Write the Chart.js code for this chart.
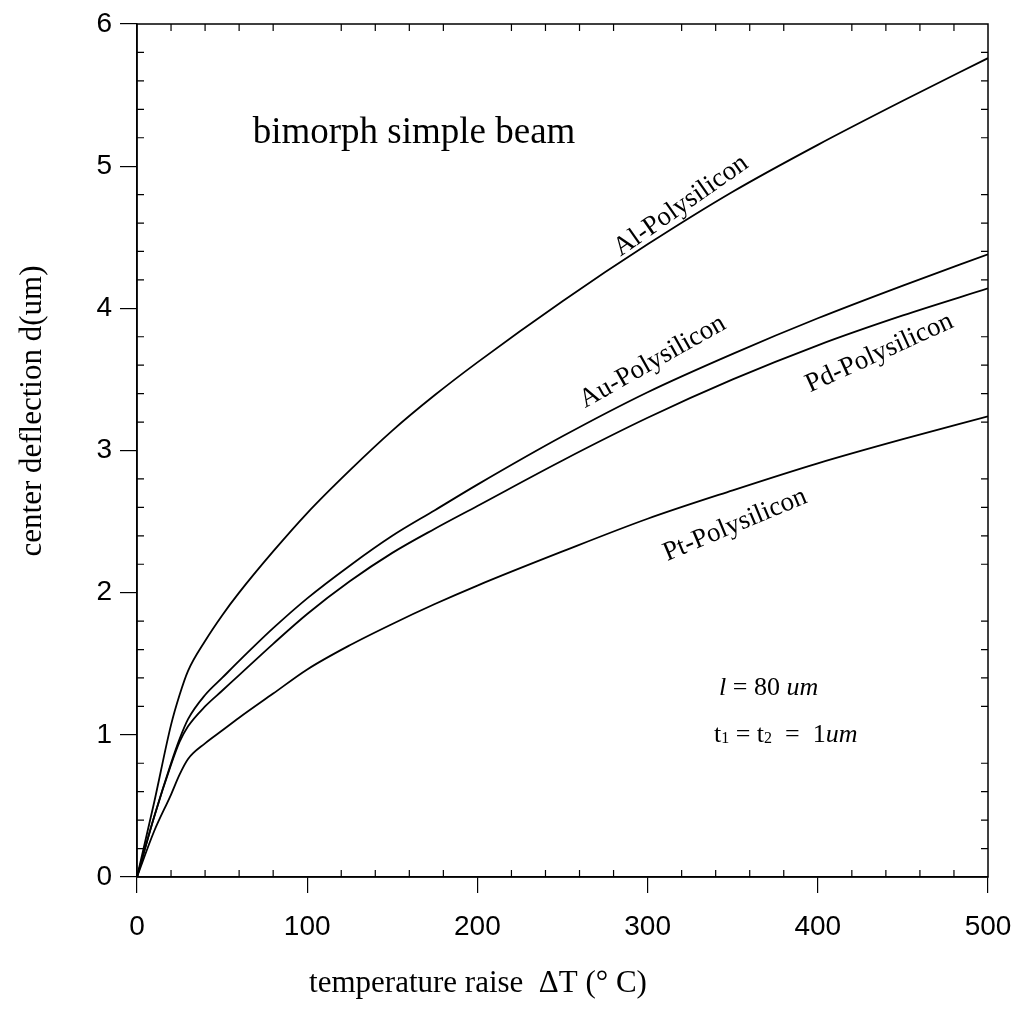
<!DOCTYPE html>
<html>
<head>
<meta charset="utf-8">
<script src="https://cdn.jsdelivr.net/npm/chart.js@4.4.1/dist/chart.umd.min.js"></script>
<style>
  body { margin: 0; background: #fff; }
  #wrap { width: 1022px; height: 1012px; }
</style>
</head>
<body>
<div id="wrap"><canvas id="g_beam"></canvas></div>
<script>
// temperature raise (°C) and center deflection (um)
const tempRaise = [0, 10, 20, 25, 30, 40, 50, 60, 80, 100, 125, 150, 175, 200, 250, 300, 350, 400, 450, 500];
const alPoly = [0, 0.52, 1.07, 1.28, 1.45, 1.66, 1.84, 2.00, 2.29, 2.56, 2.86, 3.14, 3.39, 3.62, 4.05, 4.45, 4.82, 5.15, 5.46, 5.76];
const auPoly = [0, 0.42, 0.80, 0.97, 1.11, 1.28, 1.40, 1.52, 1.75, 1.96, 2.19, 2.40, 2.58, 2.76, 3.10, 3.41, 3.68, 3.93, 4.16, 4.38];
const pdPoly = [0, 0.42, 0.79, 0.95, 1.06, 1.20, 1.31, 1.42, 1.64, 1.85, 2.08, 2.28, 2.45, 2.61, 2.93, 3.23, 3.50, 3.74, 3.95, 4.14];
const ptPoly = [0, 0.32, 0.58, 0.72, 0.83, 0.94, 1.03, 1.12, 1.29, 1.46, 1.63, 1.78, 1.92, 2.05, 2.29, 2.52, 2.72, 2.91, 3.08, 3.24];
const xTicks = [0, 100, 200, 300, 400, 500];
const yTicks = [0, 1, 2, 3, 4, 5, 6];

const serif = "'Liberation Serif', 'Times New Roman', serif";
const sans = "'Liberation Sans', Arial, sans-serif";

function toPoints(values) {
    return tempRaise.map((t, i) => ({ x: t, y: values[i] }));
}

function curve(label, values) {
    return {
        label: label,
        data: toPoints(values),
        borderColor: '#000',
        borderWidth: 1.8,
        pointRadius: 0,
        fill: false,
        cubicInterpolationMode: 'monotone'
    };
}

// curve labels : text, position in data units, angle in degrees
const curveLabels = [
    { text: 'Al-Polysilicon', x: 322, y: 4.68, angle: -35 },
    { text: 'Au-Polysilicon', x: 305, y: 3.58, angle: -29.5 },
    { text: 'Pd-Polysilicon', x: 438, y: 3.64, angle: -24.5 },
    { text: 'Pt-Polysilicon', x: 353, y: 2.43, angle: -22.6 }
];

// writes a list of [text, font, dy] pieces one after the other
function writePieces(ctx, pieces, x, y) {
    let cx = x;
    pieces.forEach(p => {
        ctx.font = p[1];
        ctx.fillText(p[0], cx, y + (p[2] || 0));
        cx += ctx.measureText(p[0]).width;
    });
}

const framePlugin = {
    id: 'frame',
    afterDraw(chart) {
        const ctx = chart.ctx;
        const a = chart.chartArea;
        const xs = chart.scales.x;
        const ys = chart.scales.y;
        ctx.save();
        ctx.strokeStyle = '#000';
        ctx.lineWidth = 1.5;
        ctx.strokeRect(a.left, a.top, a.right - a.left, a.bottom - a.top);

        // minor ticks, inward, on the four sides
        ctx.lineWidth = 1.2;
        ctx.beginPath();
        for (let v = 20; v < 500; v += 20) {
            if (v % 100 === 0) continue;
            const px = xs.getPixelForValue(v);
            ctx.moveTo(px, a.bottom); ctx.lineTo(px, a.bottom - 7);
            ctx.moveTo(px, a.top); ctx.lineTo(px, a.top + 7);
        }
        for (let k = 1; k < 30; k++) {
            if (k % 5 === 0) continue;
            const py = ys.getPixelForValue(k / 5);
            ctx.moveTo(a.left, py); ctx.lineTo(a.left + 7, py);
            ctx.moveTo(a.right, py); ctx.lineTo(a.right - 7, py);
        }
        ctx.stroke();

        ctx.fillStyle = '#000';
        // curve names
        ctx.font = '27px ' + serif;
        ctx.textAlign = 'center';
        ctx.textBaseline = 'alphabetic';
        curveLabels.forEach(l => {
            ctx.save();
            ctx.translate(xs.getPixelForValue(l.x), ys.getPixelForValue(l.y));
            ctx.rotate(l.angle * Math.PI / 180);
            ctx.fillText(l.text, 0, 0);
            ctx.restore();
        });

        // title inside the plot
        ctx.textAlign = 'left';
        ctx.font = '37px ' + serif;
        ctx.fillText('bimorph simple beam', xs.getPixelForValue(68), ys.getPixelForValue(5.16));

        // parameters
        const n = '26px ' + serif;
        const it = 'italic 26px ' + serif;
        const sm = '16px ' + serif;
        writePieces(ctx, [['l', it], [' = 80 ', n], ['um', it]],
            xs.getPixelForValue(342), ys.getPixelForValue(1.28));
        writePieces(ctx, [['t', n], ['1', sm, 1], [' = t', n], ['2', sm, 1], ['  =  1', n], ['um', it]],
            xs.getPixelForValue(339), ys.getPixelForValue(0.95));

        // axis titles
        ctx.font = '31px ' + serif;
        ctx.textAlign = 'center';
        ctx.fillText('temperature raise  \u0394T (\u00b0 C)', 478, 992);
        ctx.save();
        ctx.translate(41, 411);
        ctx.rotate(-Math.PI / 2);
        ctx.fillText('center deflection d(um)', 0, 0);
        ctx.restore();
        ctx.restore();
    }
};

window.addEventListener('load', () => {
    const context = document.getElementById('g_beam').getContext('2d');
    const config = {
        type: 'line',
        data: {
            datasets: [
                curve('Al-Polysilicon', alPoly),
                curve('Au-Polysilicon', auPoly),
                curve('Pd-Polysilicon', pdPoly),
                curve('Pt-Polysilicon', ptPoly)
            ]
        },
        options: {
            responsive: true,
            maintainAspectRatio: false,
            animation: false,
            layout: { padding: { left: 0, top: 24, right: 34, bottom: 0 } },
            plugins: {
                legend: { display: false },
                tooltip: { enabled: false }
            },
            scales: {
                x: {
                    type: 'linear',
                    min: 0,
                    max: 500,
                    afterFit: s => { s.height = 135; s.paddingLeft = 0; s.paddingRight = 0; },
                    afterBuildTicks: s => { s.ticks = xTicks.map(v => ({ value: v })); },
                    ticks: { color: '#000', padding: 17, maxRotation: 0, font: { family: sans, size: 28 } },
                    grid: { drawOnChartArea: false, drawTicks: true, tickLength: 16, color: '#000', lineWidth: 1.2 },
                    border: { display: true, color: '#000', width: 1.5 }
                },
                y: {
                    type: 'linear',
                    min: 0,
                    max: 6,
                    afterFit: s => { s.width = 137; s.paddingTop = 0; s.paddingBottom = 0; },
                    afterBuildTicks: s => { s.ticks = yTicks.map(v => ({ value: v })); },
                    ticks: { color: '#000', padding: 8, font: { family: sans, size: 28 } },
                    grid: { drawOnChartArea: false, drawTicks: true, tickLength: 17, color: '#000', lineWidth: 1.2 },
                    border: { display: true, color: '#000', width: 1.5 }
                }
            }
        },
        plugins: [framePlugin]
    };
    new Chart(context, config);
});
</script>
</body>
</html>
